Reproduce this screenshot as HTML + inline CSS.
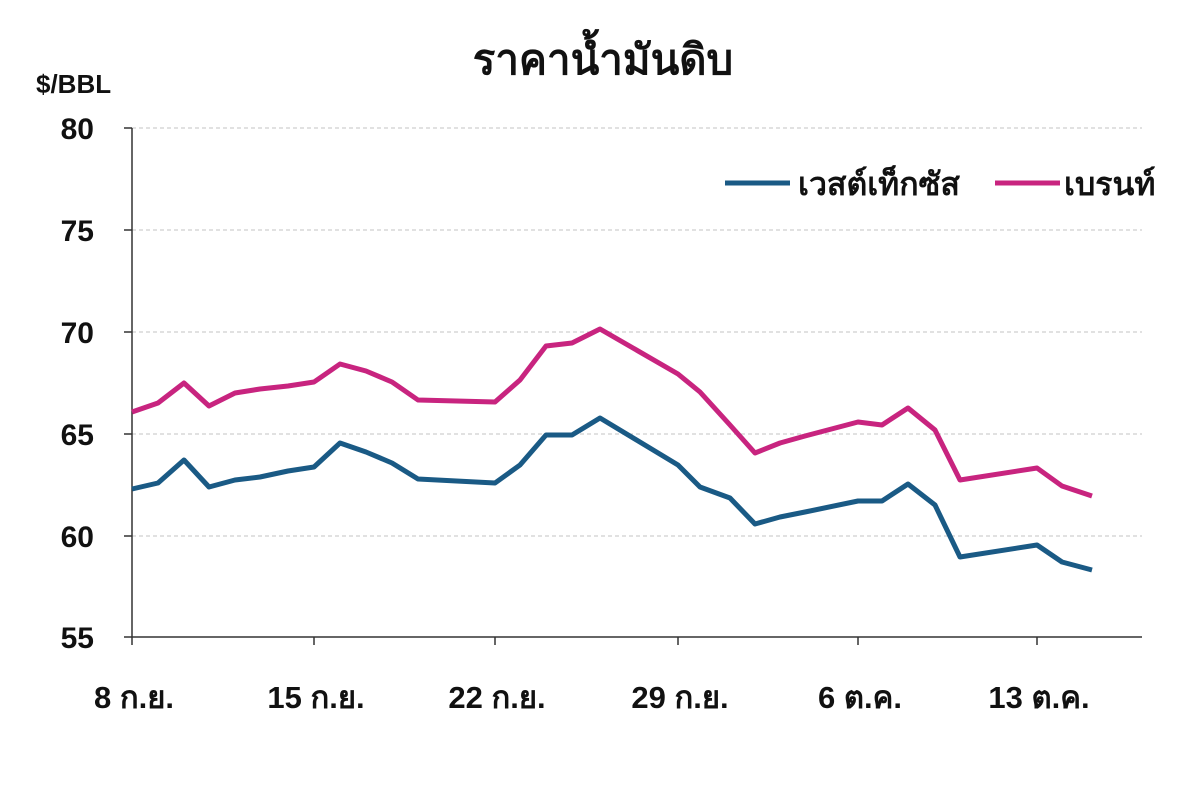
<!DOCTYPE html>
<html><head><meta charset="utf-8"><style>
html,body{margin:0;padding:0;background:#fff;}
svg{display:block;font-family:"Liberation Sans","DejaVu Sans",sans-serif;font-weight:bold;}
</style></head><body>
<svg width="1200" height="786" viewBox="0 0 1200 786" xmlns="http://www.w3.org/2000/svg">
<rect width="1200" height="786" fill="#fff"/>
<text x="603" y="74" text-anchor="middle" font-size="42" fill="#111">ราคาน้ำมันดิบ</text>
<text x="36" y="93" font-size="26" fill="#111">$/BBL</text>
<g stroke="#cfcfcf" stroke-width="1.2" stroke-dasharray="4,3">
<line x1="132" y1="128" x2="1142" y2="128"/>
<line x1="132" y1="230" x2="1142" y2="230"/>
<line x1="132" y1="332" x2="1142" y2="332"/>
<line x1="132" y1="434" x2="1142" y2="434"/>
<line x1="132" y1="536" x2="1142" y2="536"/>
</g>
<g stroke="#333" stroke-width="1.5">
<line x1="132" y1="128" x2="132" y2="637"/>
<line x1="132" y1="637" x2="1142" y2="637"/>
<line x1="124" y1="128" x2="132" y2="128"/>
<line x1="124" y1="230" x2="132" y2="230"/>
<line x1="124" y1="332" x2="132" y2="332"/>
<line x1="124" y1="434" x2="132" y2="434"/>
<line x1="124" y1="536" x2="132" y2="536"/>
<line x1="124" y1="637" x2="132" y2="637"/>
<line x1="132" y1="637" x2="132" y2="645"/>
<line x1="314" y1="637" x2="314" y2="645"/>
<line x1="495" y1="637" x2="495" y2="645"/>
<line x1="678" y1="637" x2="678" y2="645"/>
<line x1="858" y1="637" x2="858" y2="645"/>
<line x1="1037" y1="637" x2="1037" y2="645"/>
</g>
<g font-size="30" fill="#111" text-anchor="end">
<text x="94" y="139">80</text>
<text x="94" y="241">75</text>
<text x="94" y="343">70</text>
<text x="94" y="445">65</text>
<text x="94" y="547">60</text>
<text x="94" y="648">55</text>
</g>
<g font-size="31" fill="#111" text-anchor="middle">
<text x="134" y="708">8 ก.ย.</text>
<text x="316" y="708">15 ก.ย.</text>
<text x="497" y="708">22 ก.ย.</text>
<text x="680" y="708">29 ก.ย.</text>
<text x="860" y="708">6 ต.ค.</text>
<text x="1039" y="708">13 ต.ค.</text>
</g>
<polyline fill="none" stroke="#c8247f" stroke-width="5" stroke-linejoin="round" points="132,412 158,403 184,383 209,406 235,393 260,389 288,386 314,382 340,364 366,371 392,382 418,400 495,402 520,380 546,346 572,343 600,329 678,374 700,392 730,425 755,453 780,443 805,436 858,422 882,425 908,408 935,430 960,480 1037,468 1062,486 1092,496"/>
<polyline fill="none" stroke="#1a5a85" stroke-width="5" stroke-linejoin="round" points="132,489 158,483 184,460 209,487 235,480 260,477 288,471 314,467 340,443 366,452 392,463 418,479 495,483 520,465 546,435 572,435 600,418 678,465 700,487 730,498 755,524 780,517 805,512 858,501 882,501 908,484 935,505 960,557 1037,545 1062,562 1092,570"/>
<line x1="725" y1="183" x2="790" y2="183" stroke="#1a5a85" stroke-width="5"/>
<text x="798" y="195" font-size="32" fill="#111">เวสต์เท็กซัส</text>
<line x1="995" y1="183" x2="1060" y2="183" stroke="#c8247f" stroke-width="5"/>
<text x="1064" y="195" font-size="32" fill="#111">เบรนท์</text>
</svg>
</body></html>
